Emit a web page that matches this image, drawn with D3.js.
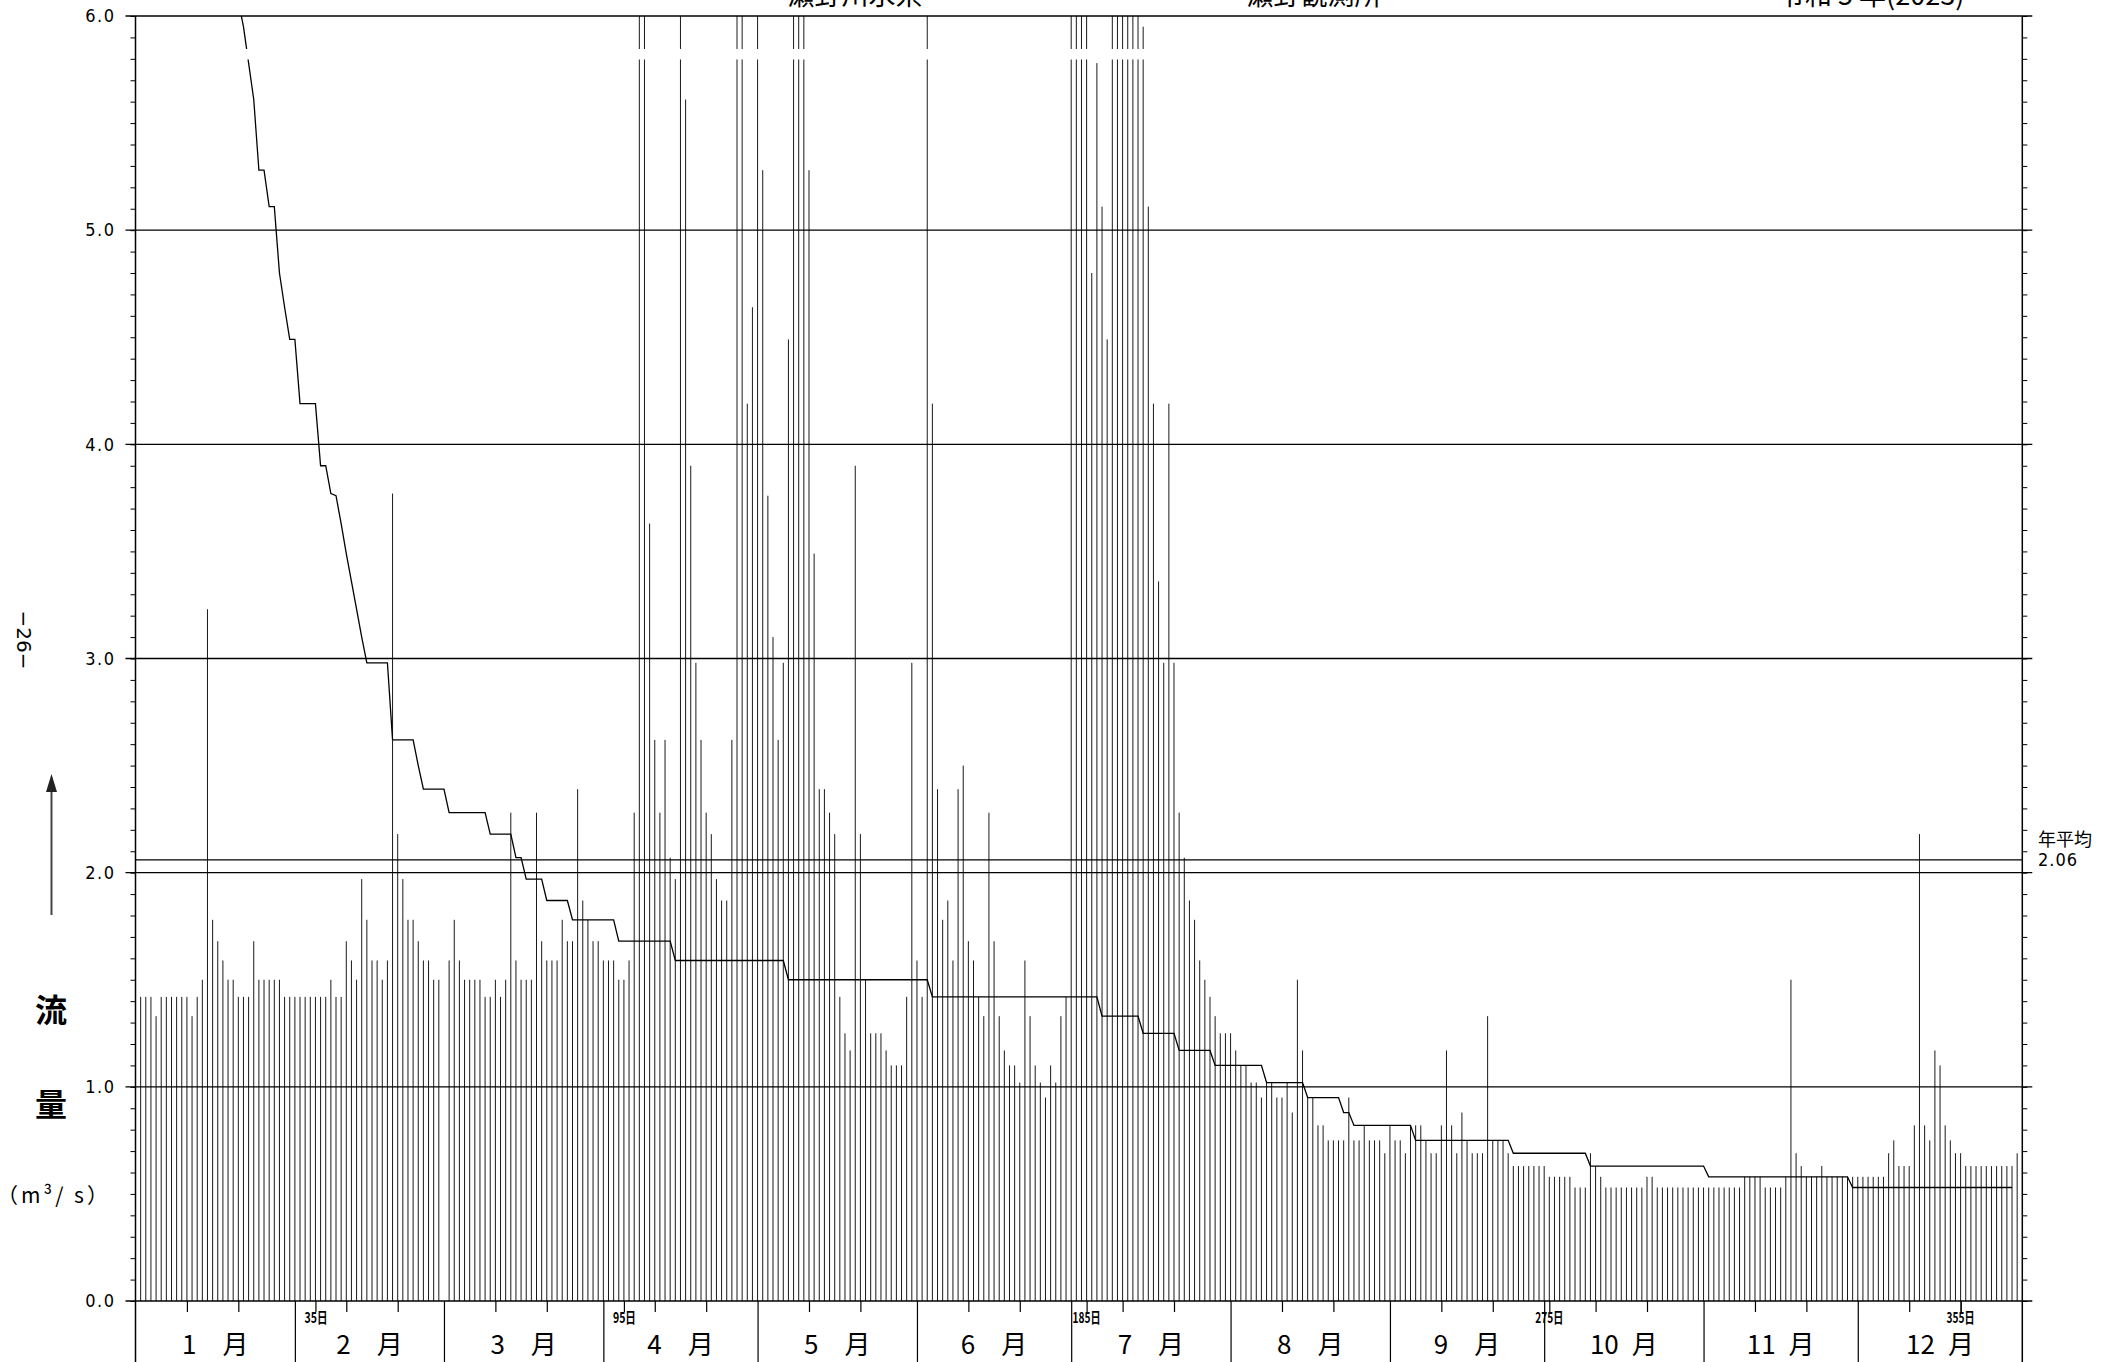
<!DOCTYPE html>
<html>
<head>
<meta charset="utf-8">
<script src="https://cdn.jsdelivr.net/npm/d3@7"></script>
<style>
body { margin: 0; background: #fff; }
svg { display: block; }
</style>
</head>
<body>
<script>
var width = 2125;
var height = 1362;

// daily flow (m3/s), 2023; the chart uses a 366-day template (Feb 29 slot empty)
var flowJan = [1.42,1.42,1.42,1.33,1.42,1.42,1.42,1.42,1.42,1.42, 1.33,1.42,1.50,3.23,1.78,1.68,1.59,1.50,1.50,1.42, 1.42,1.42,1.68,1.50,1.50,1.50,1.50,1.50,1.42,1.42, 1.42];
var flowFeb = [1.42,1.42,1.42,1.42,1.42,1.42,1.50,1.42,1.42,1.68, 1.59,1.50,1.97,1.78,1.59,1.59,1.50,1.59,3.77,2.18, 1.97,1.78,1.78,1.68,1.59,1.59,1.50,1.50];
var flowMar = [1.59,1.78,1.59,1.50,1.50,1.50,1.50,1.42,1.42,1.50, 1.42,1.50,2.28,1.59,1.50,1.50,1.50,2.28,1.68,1.59, 1.59,1.59,1.78,1.68,1.68,2.39,1.87,1.78,1.68,1.68, 1.59];
var flowApr = [1.59,1.59,1.50,1.50,1.59,2.28,7.85,11.6,3.63,2.62, 2.28,2.62,2.07,1.97,8.94,5.61,3.90,2.98,2.62,2.28, 2.18,1.97,1.87,1.87,2.62,6.07,9.52,4.19,4.64,7.12];
var flowMay = [5.28,3.76,3.10,2.62,2.98,4.49,14.3,10.8,6.95,5.28, 3.49,2.39,2.39,2.28,2.18,1.42,1.25,1.17,3.90,2.18, 1.50,1.25,1.25,1.25,1.17,1.10,1.10,1.10,1.42,2.98, 1.59];
var flowJun = [1.42,16.9,4.19,2.39,1.78,1.87,1.59,2.39,2.50,1.68, 1.59,1.42,1.33,2.28,1.68,1.33,1.17,1.10,1.10,1.02, 1.59,1.33,1.10,1.02,0.95,1.10,1.02,1.33,1.42,13.4];
var flowJul = [22.6,12.7,8.31,4.80,5.78,5.11,4.49,18.2,31.5,24.1, 15.8,9.67,6.58,5.95,5.11,4.19,3.36,2.98,4.19,2.98, 2.28,2.07,1.87,1.78,1.59,1.50,1.42,1.33,1.25,1.25, 1.25];
var flowAug = [1.17,1.10,1.10,1.02,1.02,0.95,1.02,1.02,0.95,0.95, 1.02,0.88,1.50,1.17,0.95,0.95,0.82,0.82,0.75,0.75, 0.75,0.75,0.95,0.75,0.75,0.82,0.75,0.75,0.75,0.69, 0.82];
var flowSep = [0.75,0.75,0.69,0.82,0.82,0.82,0.75,0.69,0.69,0.82, 1.17,0.82,0.69,0.88,0.75,0.69,0.69,0.69,1.33,0.75, 0.75,0.75,0.69,0.63,0.63,0.63,0.63,0.63,0.63,0.63];
var flowOct = [0.58,0.58,0.58,0.58,0.58,0.53,0.53,0.53,0.69,0.63, 0.58,0.53,0.53,0.53,0.53,0.53,0.53,0.53,0.53,0.58, 0.58,0.53,0.53,0.53,0.53,0.53,0.53,0.53,0.53,0.53, 0.53];
var flowNov = [0.53,0.53,0.53,0.53,0.53,0.53,0.53,0.58,0.58,0.58, 0.58,0.53,0.53,0.53,0.53,0.58,1.50,0.69,0.63,0.58, 0.58,0.58,0.63,0.58,0.58,0.58,0.58,0.58,0.58,0.58];
var flowDec = [0.58,0.58,0.58,0.58,0.58,0.69,0.75,0.63,0.63,0.63, 0.82,2.18,0.82,0.75,1.17,1.10,0.82,0.75,0.69,0.69, 0.63,0.63,0.63,0.63,0.63,0.63,0.63,0.63,0.63,0.63, 0.69];

var months = ["1", "2", "3", "4", "5", "6", "7", "8", "9", "10", "11", "12"];
var templateDays = [31, 29, 31, 30, 31, 30, 31, 31, 30, 31, 30, 31];
var durationDays = [35, 95, 185, 275, 355];
var yTicks = [0, 1, 2, 3, 4, 5, 6];
var annualMean = 2.06;

var plot_left = 135.5;
var plot_right = 2022.3;
var plot_top = 16;
var plot_base = 1301;

var x = d3.scaleLinear().domain([0, 367]).range([plot_left, plot_right]);
var y = d3.scaleLinear().domain([0, 6]).range([plot_base, plot_top]);

var cum = [0];
templateDays.forEach(function(n, i) { cum.push(cum[i] + n); });

var monthly = [flowJan, flowFeb, flowMar, flowApr, flowMay, flowJun, flowJul, flowAug, flowSep, flowOct, flowNov, flowDec];
var days = [];
monthly.forEach(function(arr, m) {
    arr.forEach(function(v, i) { days.push({slot: cum[m] + i + 1, value: v}); });
});

var sorted = days.map(function(d) { return d.value; }).sort(function(a, b) { return b - a; });

var svg = d3.select("body").append("svg")
    .attr("width", width)
    .attr("height", height);

svg.append("clipPath").attr("id", "plotclip")
    .append("rect")
    .attr("x", plot_left).attr("y", plot_top)
    .attr("width", plot_right - plot_left).attr("height", plot_base - plot_top);

// daily bars
svg.append("g")
    .attr("clip-path", "url(#plotclip)")
    .selectAll("line")
    .data(days)
    .enter()
    .append("line")
    .attr("x1", function(d) { return x(d.slot); })
    .attr("x2", function(d) { return x(d.slot); })
    .attr("y1", y(0))
    .attr("y2", function(d) { return y(Math.min(d.value, 6.2)); })
    .attr("stroke", "#1a1a1a")
    .attr("stroke-width", 1);

// flow duration curve
var curve = d3.line()
    .x(function(d, i) { return x(i + 1); })
    .y(function(d) { return y(d); });

svg.append("path")
    .datum(sorted)
    .attr("clip-path", "url(#plotclip)")
    .attr("d", curve)
    .attr("fill", "none")
    .attr("stroke", "#000")
    .attr("stroke-width", 1.3);

// scale break band
svg.append("rect")
    .attr("x", plot_left + 1)
    .attr("y", y(5.846))
    .attr("width", plot_right - plot_left - 2)
    .attr("height", y(5.797) - y(5.846))
    .attr("fill", "#fff");

// major grid lines, extending past both axes
svg.append("g").selectAll("line")
    .data(yTicks)
    .enter()
    .append("line")
    .attr("x1", plot_left - 10)
    .attr("x2", plot_right + 10)
    .attr("y1", function(d) { return y(d); })
    .attr("y2", function(d) { return y(d); })
    .attr("stroke", "#000")
    .attr("stroke-width", 1.3);

// annual mean line
svg.append("line")
    .attr("x1", plot_left).attr("x2", plot_right)
    .attr("y1", y(annualMean)).attr("y2", y(annualMean))
    .attr("stroke", "#000")
    .attr("stroke-width", 1.2);

svg.append("text")
    .attr("x", 2038).attr("y", 846)
    .attr("font-family", "Noto Sans CJK JP")
    .attr("font-size", "18px")
    .text("年平均");
svg.append("text")
    .attr("x", 2038).attr("y", 866)
    .attr("font-family", "DejaVu Sans")
    .attr("font-stretch", "condensed")
    .attr("font-size", "18px")
    .attr("letter-spacing", "1px")
    .text(annualMean.toFixed(2));

// minor ticks every 0.1 on both sides
var minor = d3.range(0, 61).map(function(i) { return i / 10; });

svg.append("g")
    .attr("transform", "translate(" + plot_left + ",0)")
    .call(d3.axisLeft(y).tickValues(minor).tickSize(5).tickSizeOuter(0).tickFormat(""))
    .call(function(g) { g.select(".domain").remove(); });

svg.append("g")
    .attr("transform", "translate(" + plot_right + ",0)")
    .call(d3.axisRight(y).tickValues(minor).tickSize(5).tickSizeOuter(0).tickFormat(""))
    .call(function(g) { g.select(".domain").remove(); });

// y labels
svg.append("g")
    .attr("transform", "translate(" + plot_left + ",0)")
    .call(d3.axisLeft(y).tickValues(yTicks).tickSize(0).tickPadding(20).tickFormat(d3.format(".1f")))
    .call(function(g) {
        g.select(".domain").remove();
        g.selectAll("text")
            .attr("font-family", "DejaVu Sans")
            .attr("font-stretch", "condensed")
            .attr("font-size", "18px")
            .attr("letter-spacing", "1.5px")
            .attr("fill", "#000");
    });

// left and right axis lines
[plot_left, plot_right].forEach(function(px) {
    svg.append("line")
        .attr("x1", px).attr("x2", px)
        .attr("y1", plot_top).attr("y2", height)
        .attr("stroke", "#000")
        .attr("stroke-width", 1.5);
});

// bottom: 10th / 20th day ticks
var tenDays = [];
cum.slice(0, 12).forEach(function(c) { tenDays.push(c + 10, c + 20); });

svg.append("g")
    .attr("transform", "translate(0," + plot_base + ")")
    .call(d3.axisBottom(x).tickValues(tenDays.concat(durationDays)).tickSize(11).tickSizeOuter(0).tickFormat(""))
    .call(function(g) { g.select(".domain").remove(); g.selectAll("line").attr("stroke-width", 1.2); });

// month boundaries
svg.append("g")
    .attr("transform", "translate(0," + plot_base + ")")
    .call(d3.axisBottom(x).tickValues(cum.slice(1, 12)).tickSize(height - plot_base).tickSizeOuter(0).tickFormat(""))
    .call(function(g) { g.select(".domain").remove(); g.selectAll("line").attr("stroke-width", 1.2); });

// month labels
var edges = cum.slice(0, 12).map(function(c, i) { return [c, i == 11 ? 367 : cum[i + 1]]; });
svg.append("g").selectAll("text")
    .data(months)
    .enter()
    .append("text")
    .attr("x", function(d, i) { return x((edges[i][0] + edges[i][1]) / 2); })
    .attr("y", 1354)
    .attr("text-anchor", "middle")
    .attr("font-family", "Noto Sans CJK JP")
    .attr("font-size", "26px")
    .text(function(d) { return d.length == 1 ? d + "\u3000月" : d + "\u2002月"; });

// duration day labels
svg.append("g").selectAll("text")
    .data(durationDays)
    .enter()
    .append("text")
    .attr("x", function(d) { return x(d) - (d >= 100 ? 14 : 11); })
    .attr("y", 1323)
    .attr("font-family", "Noto Sans CJK JP")
    .attr("font-weight", "bold")
    .attr("font-size", "15px")
    .attr("textLength", function(d) { return d >= 100 ? 28 : 23; })
    .attr("lengthAdjust", "spacingAndGlyphs")
    .text(function(d) { return d + "日"; });

// titles (cut off at top edge)
var titleFont = "Noto Sans CJK JP";
svg.append("text").attr("x", 855).attr("y", 5).attr("text-anchor", "middle")
    .attr("font-family", titleFont).attr("font-size", "27px").text("瀬野川水系");
svg.append("text").attr("x", 1314).attr("y", 5).attr("text-anchor", "middle")
    .attr("font-family", titleFont).attr("font-size", "27px").text("瀬野観測所");
svg.append("text").attr("x", 1778).attr("y", 5)
    .attr("font-family", titleFont).attr("font-size", "27px").text("令和 5 年(2023)");

// y axis title
svg.append("line")
    .attr("x1", 51.5).attr("x2", 51.5)
    .attr("y1", 915).attr("y2", 788)
    .attr("stroke", "#444").attr("stroke-width", 2);
svg.append("path")
    .attr("d", "M51.5,774 L46,792 L57,792 Z")
    .attr("fill", "#222");

svg.append("text").attr("x", 51).attr("y", 1022).attr("text-anchor", "middle")
    .attr("font-family", titleFont).attr("font-weight", "bold").attr("font-size", "32px").text("流");
svg.append("text").attr("x", 51).attr("y", 1116).attr("text-anchor", "middle")
    .attr("font-family", titleFont).attr("font-weight", "bold").attr("font-size", "32px").text("量");
svg.append("text").attr("x", 54).attr("y", 1203).attr("text-anchor", "middle")
    .attr("font-family", titleFont).attr("font-size", "21px")
    .attr("letter-spacing", "3px")
    .text("（m³/ s）");

// page number
svg.append("text")
    .attr("transform", "translate(17,640) rotate(90)")
    .attr("text-anchor", "middle")
    .attr("font-family", "DejaVu Sans")
    .attr("font-size", "20px")
    .text("−26−");
</script>
</body>
</html>
